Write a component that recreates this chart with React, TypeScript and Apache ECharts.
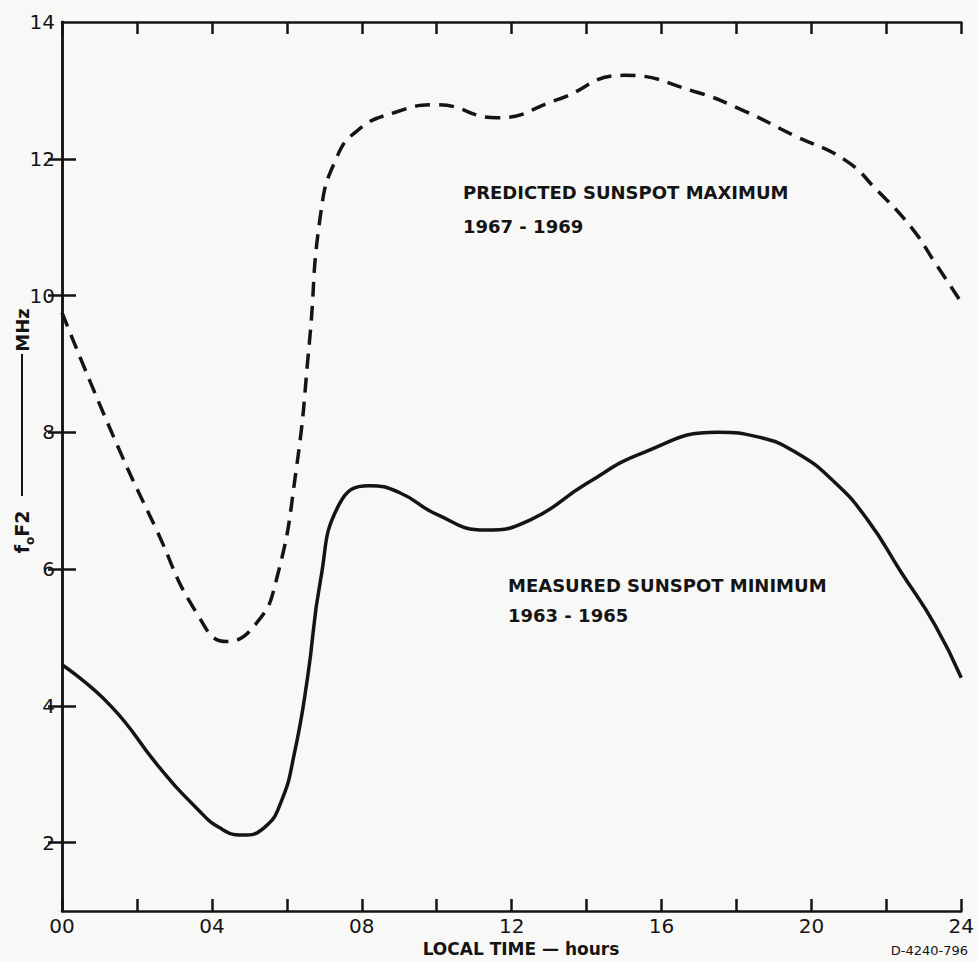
import React, { useEffect, useRef } from "react";
import * as echarts from "echarts";

// Axis ticks / labels
const hourLabelValues = [0, 4, 8, 12, 16, 20, 24];
const yLabelValues = [2, 4, 6, 8, 10, 12, 14];
const yTickValues = [2, 4, 6, 8, 10, 12];

// Measured sunspot minimum 1963-1965 (solid)
const minHours = [0, 1.3, 2.6, 3.6, 4.2, 4.8, 5.4, 5.85, 6.2, 6.55, 6.9, 7.4, 8.2, 9.0, 10.0, 11.3, 12.5, 14.0, 15.5, 17.5, 18.6, 19.6, 20.6, 21.5, 22.4, 23.3, 24];
const minValues = [4.6, 4.0, 3.1, 2.5, 2.22, 2.11, 2.22, 2.6, 3.3, 4.4, 5.84, 6.95, 7.22, 7.12, 6.8, 6.57, 6.72, 7.25, 7.7, 8.0, 7.93, 7.7, 7.28, 6.72, 5.95, 5.18, 4.41];

// Predicted sunspot maximum 1967-1969 (dashed)
const maxHours = [0, 1.38, 2.5, 3.59, 4.39, 5.19, 5.72, 6.25, 6.6, 6.9, 7.3, 7.9, 8.9, 10.0, 11.6, 13.2, 15.0, 16.9, 18.2, 19.5, 20.9, 21.75, 22.66, 23.3, 24];
const maxValues = [9.75, 7.93, 6.6, 5.36, 4.94, 5.21, 5.84, 7.45, 9.3, 11.18, 11.98, 12.42, 12.68, 12.79, 12.6, 12.86, 13.22, 12.98, 12.7, 12.35, 11.98, 11.54, 11.0, 10.48, 9.9];

const INK = "#141414";
const BG = "#f8f8f6";
const FONT = "DejaVu Sans";

export default function App() {
  const ref = useRef<HTMLDivElement>(null);

  useEffect(() => {
    if (!ref.current) return;
    const chart = echarts.init(ref.current, null, { renderer: "svg" });

    const minData = minHours.map((h, i) => [h, minValues[i]]);
    const maxData = maxHours.map((h, i) => [h, maxValues[i]]);

    const axisLine = { show: true, lineStyle: { color: INK, width: 2.5 } };
    const tickStyle = { color: INK, width: 2.5 };
    const noteStyle = { fill: INK, fontSize: 18, fontWeight: 600, fontFamily: FONT, textAlign: "left", textVerticalAlign: "middle" };

    chart.setOption({
      animation: false,
      backgroundColor: BG,
      grid: { left: 62, right: 11, top: 22, bottom: 50, containLabel: false },
      xAxis: [
        {
          type: "value",
          position: "bottom",
          min: 0,
          max: 24,
          interval: 2,
          axisLine,
          axisTick: { show: true, inside: true, length: 12, lineStyle: tickStyle },
          axisLabel: {
            customValues: hourLabelValues,
            formatter: (v: number) => String(v).padStart(2, "0"),
            fontSize: 20,
            color: INK,
            fontFamily: FONT,
            margin: 5,
          },
          splitLine: { show: false },
        },
        {
          type: "value",
          position: "top",
          min: 0,
          max: 24,
          interval: 2,
          axisLine,
          axisTick: { show: true, inside: true, length: 12, lineStyle: tickStyle },
          axisLabel: { show: false },
          splitLine: { show: false },
        },
      ],
      yAxis: [
        {
          type: "value",
          position: "left",
          min: 1,
          max: 14,
          interval: 1,
          axisLine,
          axisTick: { show: true, inside: true, length: 14, customValues: yTickValues, lineStyle: tickStyle },
          axisLabel: {
            customValues: yLabelValues,
            fontSize: 20,
            color: INK,
            fontFamily: FONT,
            margin: 7,
          },
          splitLine: { show: false },
        },
        {
          type: "value",
          position: "right",
          min: 1,
          max: 14,
          interval: 1,
          axisLine,
          axisTick: { show: true, inside: true, length: 14, customValues: yTickValues, lineStyle: tickStyle },
          axisLabel: { show: false },
          splitLine: { show: false },
        },
      ],
      series: [
        {
          name: "Measured sunspot minimum 1963-1965",
          type: "line",
          xAxisIndex: 0,
          yAxisIndex: 0,
          data: minData,
          smooth: 0.5,
          showSymbol: false,
          lineStyle: { color: INK, width: 3.5 },
        },
        {
          name: "Predicted sunspot maximum 1967-1969",
          type: "line",
          xAxisIndex: 0,
          yAxisIndex: 0,
          data: maxData,
          smooth: 0.5,
          showSymbol: false,
          lineStyle: { color: INK, width: 3.5, type: [15, 9], cap: "butt" },
        },
      ],
      graphic: [
        { type: "text", x: 463, y: 192, style: { ...noteStyle, text: "PREDICTED SUNSPOT MAXIMUM" } },
        { type: "text", x: 463, y: 226, style: { ...noteStyle, text: "1967 - 1969" } },
        { type: "text", x: 508, y: 585, style: { ...noteStyle, text: "MEASURED SUNSPOT MINIMUM" } },
        { type: "text", x: 508, y: 615, style: { ...noteStyle, text: "1963 - 1965" } },
        {
          type: "text",
          x: 521,
          y: 949,
          style: { text: "LOCAL TIME — hours", fill: INK, fontSize: 17, fontWeight: 600, fontFamily: FONT, textAlign: "center", textVerticalAlign: "middle" },
        },
        {
          type: "text",
          x: 968,
          y: 950,
          style: { text: "D-4240-796", fill: INK, fontSize: 13, fontFamily: FONT, textAlign: "right", textVerticalAlign: "middle" },
        },
        {
          type: "text",
          x: 22,
          y: 330,
          rotation: Math.PI / 2,
          style: { text: "MHz", fill: INK, fontSize: 18, fontWeight: 600, fontFamily: FONT, textAlign: "center", textVerticalAlign: "middle" },
        },
        {
          type: "line",
          shape: { x1: 22, y1: 354, x2: 22, y2: 496 },
          style: { stroke: INK, lineWidth: 2 },
        },
        {
          type: "text",
          x: 22,
          y: 532,
          rotation: Math.PI / 2,
          style: {
            text: "{a|f}{s|o}{a|F2}",
            fill: INK,
            textAlign: "center",
            textVerticalAlign: "middle",
            rich: {
              a: { fontSize: 19, fontWeight: 600, fontFamily: FONT, fill: INK, lineHeight: 28 },
              s: { fontSize: 12, fontWeight: 600, fontFamily: FONT, fill: INK, lineHeight: 12, verticalAlign: "bottom" },
            },
          },
        },
      ],
    });

    return () => chart.dispose();
  }, []);

  return (
    <div
      ref={ref}
      style={{ position: "fixed", left: 0, top: 0, width: 977, height: 961, background: BG }}
    />
  );
}
